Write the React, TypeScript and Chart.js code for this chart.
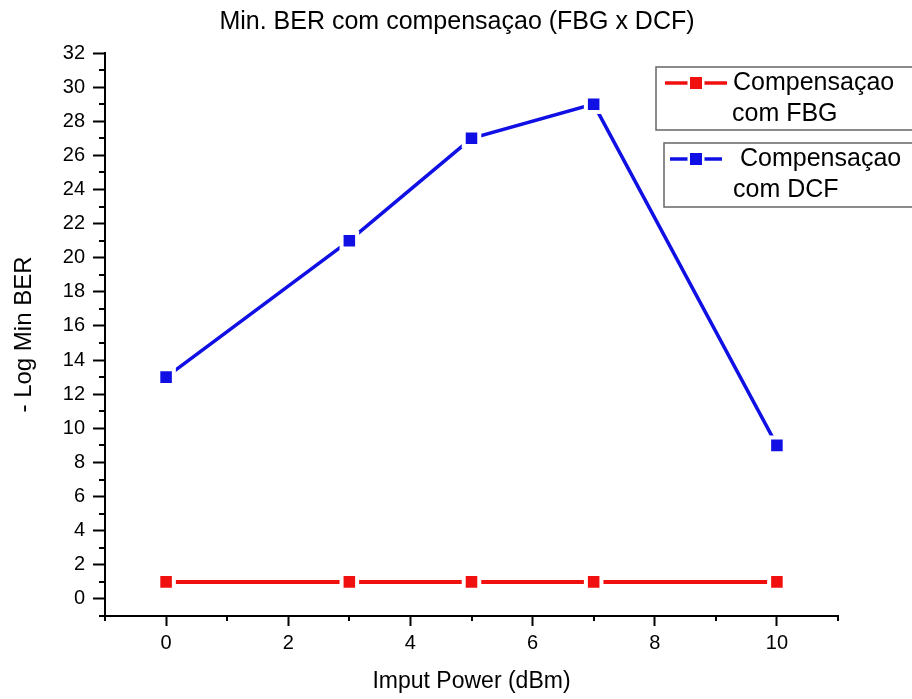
import React, { useEffect, useRef } from 'react';
import { Chart, registerables } from 'chart.js';

Chart.register(...registerables);

// ---- data ----
const inputPower = [0, 3, 5, 7, 10];
const berFBG = [1, 1, 1, 1, 1];
const berDCF = [13, 21, 27, 29, 9];
const xTickValues = [0, 2, 4, 6, 8, 10];
const yTickValues = [0, 2, 4, 6, 8, 10, 12, 14, 16, 18, 20, 22, 24, 26, 28, 30, 32];
const seriesNames = ['Compensaçao\ncom FBG', 'Compensaçao\ncom DCF'];
const titleText = 'Min. BER com compensaçao (FBG x DCF)';
const xTitle = 'Imput Power (dBm)';
const yTitle = '- Log Min BER';

const RED = '#F01010';
const BLUE = '#1010E4';
const FONT = '"Liberation Sans", Arial, sans-serif';

const minorTicksPlugin = {
  id: 'minorTicks',
  afterDraw(chart: any) {
    const { ctx, chartArea } = chart;
    const xs = chart.scales.x;
    const ys = chart.scales.y;
    ctx.save();
    ctx.strokeStyle = '#000';
    ctx.lineWidth = 2;
    for (let v = Math.ceil(xs.min); v <= xs.max; v++) {
      if (xTickValues.includes(v)) continue;
      const px = Math.round(xs.getPixelForValue(v));
      ctx.beginPath();
      ctx.moveTo(px, chartArea.bottom);
      ctx.lineTo(px, chartArea.bottom + 5);
      ctx.stroke();
    }
    for (let v = Math.ceil(ys.min); v <= ys.max; v++) {
      if (yTickValues.includes(v)) continue;
      const py = Math.round(ys.getPixelForValue(v));
      ctx.beginPath();
      ctx.moveTo(chartArea.left, py);
      ctx.lineTo(chartArea.left - 6, py);
      ctx.stroke();
    }
    ctx.restore();
  },
};

const titlePlugin = {
  id: 'customTitle',
  afterDraw(chart: any) {
    const { ctx } = chart;
    ctx.save();
    ctx.fillStyle = '#000';
    ctx.font = `25px ${FONT}`;
    ctx.textAlign = 'center';
    ctx.textBaseline = 'middle';
    ctx.fillText(titleText, 457, 22);
    ctx.restore();
  },
};

const legendBoxes = [
  { x: 656, y: 67, h: 63, l1: 665, l2: 727, tx: [733, 732] },
  { x: 664, y: 143, h: 64, l1: 670, l2: 722, tx: [740, 733] },
];

const boxLegendPlugin = {
  id: 'boxLegend',
  afterDraw(chart: any) {
    const { ctx } = chart;
    ctx.save();
    chart.data.datasets.forEach((ds: any, i: number) => {
      const b = legendBoxes[i];
      if (!b) return;
      ctx.fillStyle = '#fff';
      ctx.fillRect(b.x, b.y, 300, b.h);
      ctx.strokeStyle = '#666';
      ctx.lineWidth = 1.5;
      ctx.strokeRect(b.x, b.y, 300, b.h);
      const cy = b.y + 16;
      ctx.strokeStyle = ds.borderColor;
      ctx.lineWidth = 3.5;
      ctx.beginPath();
      ctx.moveTo(b.l1, cy);
      ctx.lineTo(b.l2, cy);
      ctx.stroke();
      const mx = (b.l1 + b.l2) / 2;
      ctx.fillStyle = '#fff';
      ctx.fillRect(mx - 8.5, cy - 8, 17, 16);
      ctx.fillStyle = ds.borderColor;
      ctx.fillRect(mx - 6, cy - 6, 12, 12);
      ctx.fillStyle = '#000';
      ctx.font = `25px ${FONT}`;
      ctx.textBaseline = 'middle';
      ctx.textAlign = 'left';
      const lines = String(ds.label).split('\n');
      lines.forEach((t: string, k: number) => {
        ctx.fillText(t, b.tx[k] ?? b.tx[0], cy + k * 31);
      });
    });
    ctx.restore();
  },
};

export default function App() {
  const ref = useRef<HTMLCanvasElement>(null);

  useEffect(() => {
    if (!ref.current) return;
    const mk = (vals: number[]) => inputPower.map((x, i) => ({ x, y: vals[i] }));
    const dsStyle = (c: string, w: number) => ({
      borderColor: c,
      backgroundColor: c,
      pointBackgroundColor: c,
      pointBorderColor: '#fff',
      pointBorderWidth: 4,
      pointStyle: 'rect' as const,
      pointRadius: 11,
      borderWidth: w,
      tension: 0,
    });
    const chart = new Chart(ref.current, {
      type: 'line',
      data: {
        datasets: [
          { label: seriesNames[0], data: mk(berFBG), ...dsStyle(RED, 4) },
          { label: seriesNames[1], data: mk(berDCF), ...dsStyle(BLUE, 3.5) },
        ],
      },
      options: {
        responsive: false,
        animation: false,
        events: [],
        layout: { padding: { left: 0, right: 74, top: 53, bottom: 0 } },
        plugins: {
          legend: { display: false },
          tooltip: { enabled: false },
          title: { display: false },
        },
        scales: {
          x: {
            type: 'linear',
            min: -1,
            max: 11,
            afterBuildTicks: (s: any) => {
              s.ticks = xTickValues.map((v) => ({ value: v }));
            },
            afterFit: (s: any) => {
              s.height = 83;
            },
            grid: { drawOnChartArea: false, tickLength: 10, tickColor: '#000', tickWidth: 2 },
            border: { color: '#000', width: 2 },
            ticks: {
              color: '#000',
              font: { size: 20, family: FONT },
              padding: 5,
              autoSkip: false,
              maxRotation: 0,
            },
            title: {
              display: true,
              text: xTitle,
              color: '#000',
              font: { size: 23, family: FONT },
              padding: { top: 0, bottom: 4 },
            },
          },
          y: {
            type: 'linear',
            min: -1,
            max: 32,
            afterBuildTicks: (s: any) => {
              s.ticks = yTickValues.map((v) => ({ value: v }));
            },
            afterFit: (s: any) => {
              s.width = 105;
            },
            grid: { drawOnChartArea: false, tickLength: 12, tickColor: '#000', tickWidth: 2 },
            border: { color: '#000', width: 2 },
            ticks: {
              color: '#000',
              font: { size: 20, family: FONT },
              padding: 8,
              autoSkip: false,
            },
            title: {
              display: true,
              text: yTitle,
              color: '#000',
              font: { size: 24, family: FONT },
              padding: { top: 10, bottom: 0 },
            },
          },
        },
      },
      plugins: [minorTicksPlugin, boxLegendPlugin, titlePlugin],
    });
    return () => chart.destroy();
  }, []);

  return (
    <div style={{ position: 'fixed', left: 0, top: 0, width: 912, height: 699, background: '#fff' }}>
      <canvas ref={ref} width={912} height={699} style={{ width: 912, height: 699, display: 'block' }} />
    </div>
  );
}
